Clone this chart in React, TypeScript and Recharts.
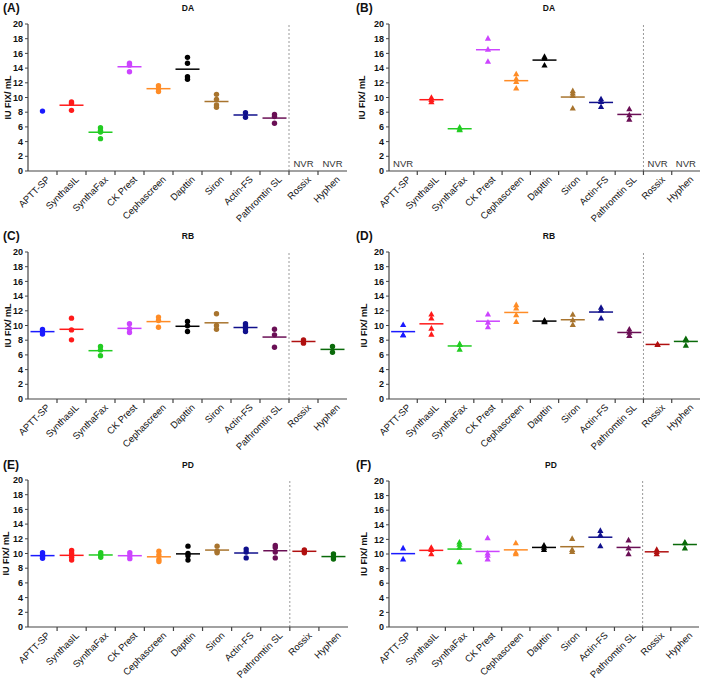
import React from "react";
import {
  ScatterChart,
  Scatter,
  XAxis,
  YAxis,
  ReferenceLine,
} from "recharts";

const categories = [
  "APTT-SP",
  "SynthasIL",
  "SynthaFax",
  "CK Prest",
  "Cephascreen",
  "Dapttin",
  "Siron",
  "Actin-FS",
  "Pathromtin SL",
  "Rossix",
  "Hyphen",
];

const colors = [
  "#1a1aff",
  "#ff1a1a",
  "#22cc22",
  "#cc44ff",
  "#ff8c26",
  "#000000",
  "#a8742e",
  "#10108c",
  "#6a0f55",
  "#b01010",
  "#0a6a0a",
];

const yTicks = [0, 2, 4, 6, 8, 10, 12, 14, 16, 18, 20];

// (A) DA, circles
const daCircles = [
  [8.15],
  [9.4, 9.2, 8.25],
  [5.9, 5.5, 5.3, 4.4],
  [14.65, 14.4, 13.5],
  [11.6, 11.2, 10.8],
  [15.46, 14.65, 12.83, 12.47],
  [10.43, 9.75, 8.98, 8.66],
  [7.94, 7.3],
  [7.7, 7.4, 6.5],
  [],
  [],
];

// (B) DA, triangles
const daTriangles = [
  [],
  [10.0, 9.7, 9.4],
  [5.95, 5.7, 5.6],
  [18.05, 16.55, 14.9],
  [13.2, 12.56, 12.15, 11.25],
  [15.56, 15.33, 14.38],
  [10.9, 10.57, 10.25, 8.53],
  [9.8, 9.43, 8.75],
  [8.44, 7.62, 7.03],
  [],
  [],
];

// (C) RB, circles
const rbCircles = [
  [9.45, 9.2, 8.85],
  [11.0, 9.4, 8.05],
  [7.14, 6.68, 5.9],
  [10.23, 9.55, 9.05],
  [11.14, 10.68, 9.77],
  [10.55, 9.95, 9.18],
  [11.6, 10.0, 9.5],
  [10.23, 9.95, 9.55, 9.18],
  [9.5, 8.73, 7.05],
  [8.05, 7.6],
  [7.14, 6.36],
];

// (D) RB, triangles
const rbTriangles = [
  [10.1, 8.7, 8.7],
  [11.53, 10.98, 9.61, 8.79],
  [7.5, 7.4, 6.75],
  [11.53, 10.43, 9.79],
  [12.8, 12.35, 11.43, 10.52],
  [10.7, 10.5, 10.6],
  [11.5, 10.75, 10.1],
  [12.44, 12.07, 10.98],
  [9.48, 9.07, 8.6],
  [7.45, 7.4],
  [8.2, 8.0, 7.3],
];

// (E) PD, circles
const pdCircles = [
  [10.1, 9.8, 9.6, 9.35],
  [10.4, 10.0, 9.5, 9.1],
  [10.1, 9.8, 9.5],
  [10.1, 9.7, 9.3],
  [10.3, 9.8, 9.2, 8.9],
  [11.0, 10.0, 9.7, 9.1],
  [11.0, 10.3, 10.1],
  [10.6, 10.2, 9.4],
  [11.1, 10.8, 10.2, 9.4],
  [10.5, 10.3, 10.1],
  [9.95, 9.55, 9.25],
];

// (F) PD, triangles
const pdTriangles = [
  [10.8, 9.3],
  [10.9, 10.6, 10.0],
  [11.6, 11.3, 10.9, 8.9],
  [12.2, 10.1, 9.8, 9.3],
  [11.5, 10.2, 10.0],
  [11.2, 10.9, 10.6],
  [12.1, 10.6, 10.3],
  [13.2, 12.6, 11.1],
  [11.9, 10.8, 10.0],
  [10.6, 10.3, 10.0],
  [11.6, 11.5, 10.8],
];

const FONT = "'Liberation Sans', Arial, Helvetica, sans-serif";
const xTicks = [0, 0.5, 1, 1.5, 2, 2.5, 3, 3.5, 4, 4.5, 5, 5.5, 6, 6.5, 7, 7.5, 8, 8.5, 9, 9.5, 10];

const mean = (vals: number[]) => vals.reduce((s, v) => s + v, 0) / vals.length;

const XTick = (props: any) => {
  const { x, y, payload } = props;
  const v = payload.value;
  if (!Number.isInteger(v)) {
    return <line x1={x} x2={x} y1={y - 4} y2={y} stroke="#444" strokeWidth={1.2} />;
  }
  const tx = x + 3;
  return (
    <text
      x={tx}
      y={y}
      dy="0.75em"
      textAnchor="end"
      transform={`rotate(-45 ${tx} ${y})`}
      fontSize={9.5}
      fill="#111"
      fontFamily={FONT}
    >
      {categories[v]}
    </text>
  );
};

const Dot = (color: string) => (p: any) => (
  <circle cx={p.cx} cy={p.cy} r={2.7} fill={color} />
);

const Tri = (color: string) => (p: any) => (
  <path
    d={`M${p.cx},${p.cy - 3.3}L${p.cx + 3.1},${p.cy + 2.3}L${p.cx - 3.1},${p.cy + 2.3}Z`}
    fill={color}
  />
);

const MeanLine = (color: string) => (p: any) => (
  <line x1={p.cx - 12} x2={p.cx + 12} y1={p.cy} y2={p.cy} stroke={color} strokeWidth={1.5} />
);

const NvrText = (p: any) => (
  <text x={p.cx} y={p.cy - 4} textAnchor="middle" fontSize={9.5} fill="#333" fontFamily={FONT}>
    NVR
  </text>
);

type PanelProps = {
  letter: string;
  title: string;
  values: number[][];
  marker: "circle" | "triangle";
  nvr: number[];
  left: number;
  right: number;
  top: number;
  bottom: number;
  labelOffset: number;
  letterX: number;
  titleX: number;
  headY: number;
};

function Panel(p: PanelProps) {
  const axisW = 36;
  const padTop = 10;
  const xAxisH = 52;
  const w = p.right - p.left + axisW + 4;
  const h = p.bottom - p.top + padTop + xAxisH;
  return (
    <>
      <div
        style={{
          position: "absolute",
          left: p.letterX,
          top: p.headY - 7,
          fontSize: 12,
          fontWeight: 700,
          lineHeight: "14px",
          fontFamily: FONT,
          color: "#111",
        }}
      >
        {p.letter}
      </div>
      <div
        style={{
          position: "absolute",
          left: p.titleX - 20,
          width: 40,
          top: p.headY - 5,
          fontSize: 8.5,
          fontWeight: 700,
          lineHeight: "10px",
          textAlign: "center",
          fontFamily: FONT,
          color: "#111",
        }}
      >
        {p.title}
      </div>
      <div style={{ position: "absolute", left: p.left - axisW, top: p.top - padTop }}>
        <ScatterChart
          width={w}
          height={h}
          margin={{ top: padTop, right: 4, left: 0, bottom: 0 }}
          style={{ overflow: "visible" }}
        >
          <XAxis
            type="number"
            dataKey="x"
            domain={[-0.5, 10.5]}
            ticks={xTicks}
            interval={0}
            tickLine={false}
            tickSize={4}
            tickMargin={0}
            height={xAxisH}
            tick={<XTick />}
            axisLine={{ stroke: "#444", strokeWidth: 1.2 }}
          />
          <YAxis
            type="number"
            dataKey="y"
            domain={[0, 20]}
            ticks={yTicks}
            interval={0}
            width={axisW}
            tickSize={3}
            tickMargin={2}
            axisLine={{ stroke: "#444", strokeWidth: 1.2 }}
            tickLine={{ stroke: "#444" }}
            tick={{ fontSize: 9, fontWeight: 700, fill: "#111", fontFamily: FONT }}
            label={{
              value: "IU FIX/ mL",
              angle: -90,
              position: "insideLeft",
              offset: p.labelOffset,
              style: { textAnchor: "middle", fontSize: 9, fontWeight: 700, fill: "#111", fontFamily: FONT },
            }}
          />
          <ReferenceLine x={8.5} stroke="#9a9a9a" strokeDasharray="2 2" strokeWidth={1} />
          {p.values.map((vals, i) =>
            vals.length > 1 ? (
              <Scatter
                key={`m${i}`}
                data={[{ x: i, y: mean(vals) }]}
                shape={MeanLine(colors[i])}
                isAnimationActive={false}
              />
            ) : null
          )}
          {p.values.map((vals, i) => (
            <Scatter
              key={`p${i}`}
              data={vals.map((v) => ({ x: i, y: v }))}
              shape={p.marker === "circle" ? Dot(colors[i]) : Tri(colors[i])}
              isAnimationActive={false}
            />
          ))}
          {p.nvr.length > 0 && (
            <Scatter
              data={p.nvr.map((i) => ({ x: i, y: 0 }))}
              shape={NvrText}
              isAnimationActive={false}
            />
          )}
        </ScatterChart>
      </div>
    </>
  );
}

export default function App() {
  return (
    <div
      style={{
        position: "absolute",
        left: 0,
        top: 0,
        width: 709,
        height: 679,
        overflow: "hidden",
        background: "#fff",
        fontFamily: FONT,
      }}
    >
      <Panel letter="(A)" title="DA" values={daCircles} marker="circle" nvr={[9, 10]}
        left={28} right={347} top={24} bottom={171} labelOffset={16} letterX={3} titleX={188} headY={8} />
      <Panel letter="(B)" title="DA" values={daTriangles} marker="triangle" nvr={[0, 9, 10]}
        left={389} right={700} top={24} bottom={171} labelOffset={9} letterX={356} titleX={549} headY={8} />
      <Panel letter="(C)" title="RB" values={rbCircles} marker="circle" nvr={[]}
        left={28} right={347} top={252} bottom={399} labelOffset={16} letterX={3} titleX={188} headY={236} />
      <Panel letter="(D)" title="RB" values={rbTriangles} marker="triangle" nvr={[]}
        left={389} right={700} top={252} bottom={399} labelOffset={11} letterX={356} titleX={549} headY={236} />
      <Panel letter="(E)" title="PD" values={pdCircles} marker="circle" nvr={[]}
        left={28} right={348} top={480} bottom={627} labelOffset={14} letterX={3} titleX={188} headY={465} />
      <Panel letter="(F)" title="PD" values={pdTriangles} marker="triangle" nvr={[]}
        left={389} right={699} top={481} bottom={627} labelOffset={11} letterX={356} titleX={551} headY={465} />
    </div>
  );
}
